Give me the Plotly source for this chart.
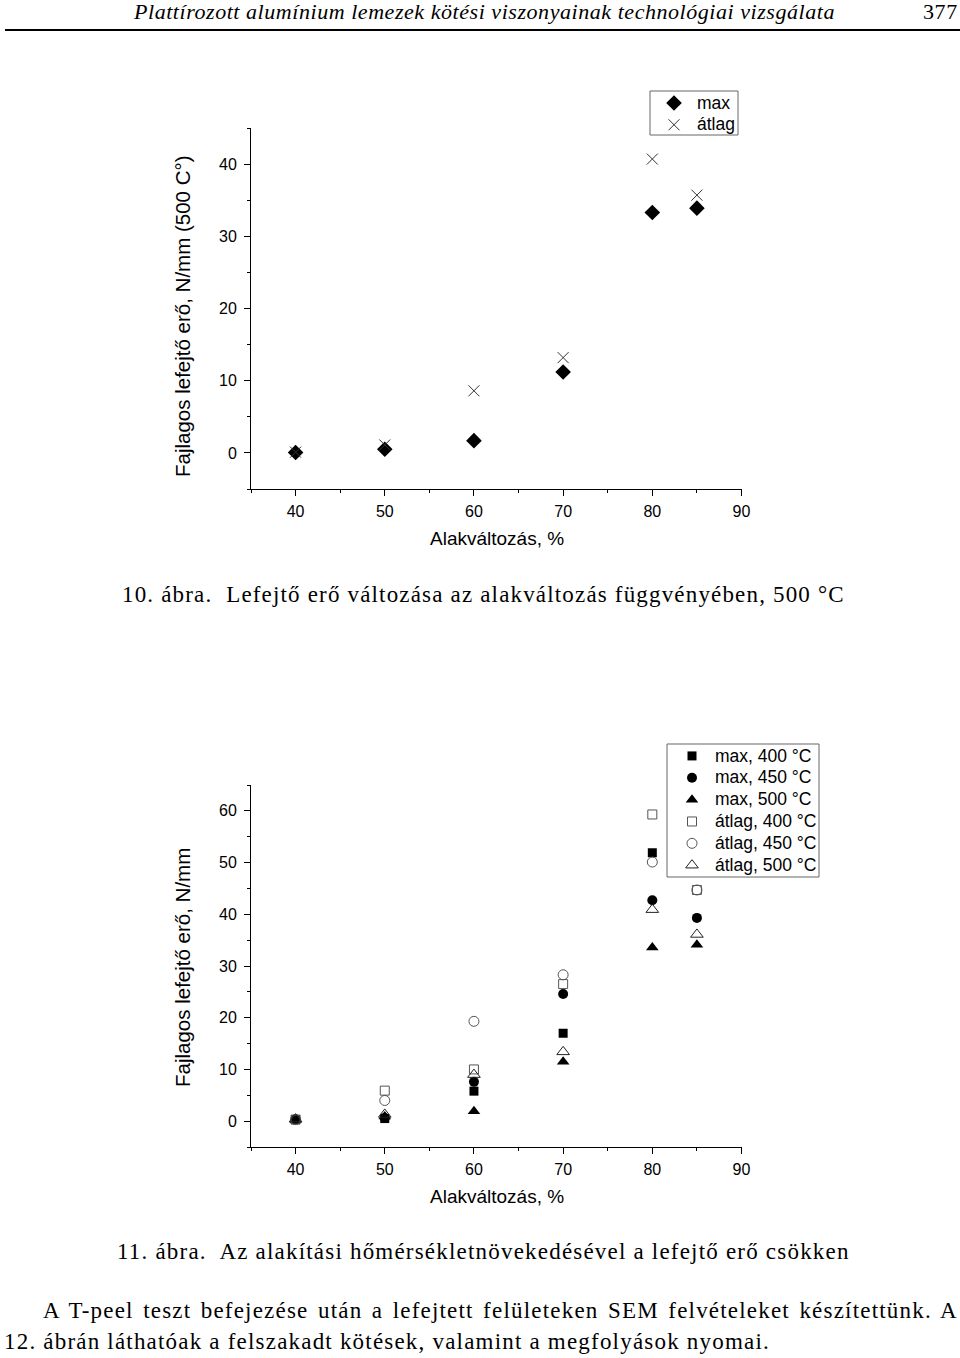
import plotly.graph_objects as go

W, H = 960, 1358

# ---------- data ----------
x_def = [40, 50, 60, 70, 80, 85]
# figure 10 (500 °C)
f10_max = [0.05, 0.5, 1.7, 11.2, 33.3, 33.9]
f10_atlag = [0.1, 1.1, 8.6, 13.2, 40.7, 35.7]

# figure 11
max400 = [0.3, 0.5, 5.8, 17.0, 51.9, None]
max450 = [0.3, 0.6, 7.6, 24.6, 42.7, 39.3]
max500 = [0.2, 0.9, 1.9, 11.5, 33.6, 34.1]
atl400 = [0.3, 5.9, 10.0, 26.5, 59.3, 44.7]
atl450 = [0.3, 4.0, 19.3, 28.3, 50.1, 44.7]
atl500 = [0.4, 1.3, 9.0, 13.4, 40.9, 36.1]

x_ticks = [40, 50, 60, 70, 80, 90]
y1_ticks = [0, 10, 20, 30, 40]
y2_ticks = [0, 10, 20, 30, 40, 50, 60]

SANS = "Liberation Sans, Arial, sans-serif"
SERIF = "Liberation Serif, Times New Roman, serif"


def px(x):
    return x / W


def py(y):
    return 1 - y / H


def lg(s):
    return '<span style="font-size:17.5px">' + s + '</span>'


fig = go.Figure()

# ---------- figure 10 ----------
fig.add_trace(go.Scatter(x=x_def, y=f10_max, mode="markers", name=lg("max"),
                         marker=dict(symbol="diamond", size=12, color="black"),
                         xaxis="x", yaxis="y", legend="legend"))
fig.add_trace(go.Scatter(x=x_def, y=f10_atlag, mode="markers", name=lg("átlag"),
                         marker=dict(symbol="x-thin-open", size=11, color="#333333",
                                     line=dict(width=1, color="#333333")),
                         xaxis="x", yaxis="y", legend="legend"))

# ---------- figure 11 ----------
GR = "#555555"
series = [
    ("max, 400 °C", max400, dict(symbol="square", size=9, color="black")),
    ("max, 450 °C", max450, dict(symbol="circle", size=10, color="black")),
    ("max, 500 °C", max500, dict(symbol="triangle-up", size=11, color="black")),
    ("átlag, 400 °C", atl400, dict(symbol="square-open", size=9, color=GR, line=dict(width=1, color=GR))),
    ("átlag, 450 °C", atl450, dict(symbol="circle-open", size=10, color=GR, line=dict(width=1, color=GR))),
    ("átlag, 500 °C", atl500, dict(symbol="triangle-up-open", size=11, color="#222222", line=dict(width=1, color="#222222"))),
]
for name, vals, mk in series:
    fig.add_trace(go.Scatter(x=x_def, y=vals, mode="markers", name=lg(name), marker=mk,
                             xaxis="x2", yaxis="y2", legend="legend2"))

axis_common = dict(showline=True, linecolor="black", linewidth=1, ticks="outside",
                   ticklen=6, tickwidth=1, tickcolor="black", showgrid=False,
                   zeroline=False, tickfont=dict(family=SANS, size=16, color="black"),
                   mirror=False, automargin=False)
minor = dict(ticks="outside", ticklen=3, tickcolor="black", dtick=5)

xdom = [px(251), px(741.5)]
leg_common = dict(xanchor="left", yanchor="top", borderwidth=0,
                  bgcolor="rgba(0,0,0,0)", font=dict(family=SANS, size=14.5, color="black"),
                  tracegroupgap=0, itemwidth=36)
fig.update_layout(
    width=W, height=H,
    margin=dict(l=0, r=0, t=0, b=0),
    paper_bgcolor="white", plot_bgcolor="white",
    showlegend=True,
    xaxis=dict(domain=xdom, range=[35, 90], tickvals=x_ticks, anchor="y",
               minor=dict(tick0=35, **minor), ticklabelstandoff=2, **axis_common),
    yaxis=dict(domain=[py(489), py(128)], range=[-5, 45], anchor="x",
               minor=dict(tick0=-5, **minor), tickvals=y1_ticks, ticklabelstandoff=4,
               **axis_common),
    xaxis2=dict(domain=xdom, range=[35, 90], tickvals=x_ticks, anchor="y2",
                minor=dict(tick0=35, **minor), ticklabelstandoff=2, **axis_common),
    yaxis2=dict(domain=[py(1147), py(785)], range=[-5, 65], anchor="x2",
                minor=dict(tick0=-5, **minor), tickvals=y2_ticks, ticklabelstandoff=4,
                **axis_common),
    legend=dict(x=px(651), y=py(87), **leg_common),
    legend2=dict(x=px(669), y=py(740), **leg_common),
)

# legend frames
for (x0, y0, x1, y1) in [(650, 91, 738, 135), (667, 744, 819, 877)]:
    fig.add_shape(type="rect", xref="paper", yref="paper",
                  x0=px(x0), x1=px(x1), y0=py(y1), y1=py(y0),
                  line=dict(color="#666666", width=1), fillcolor="rgba(0,0,0,0)", layer="below")

ann = []


def text(x, y, s, size, family, xanchor="center", angle=0, italic=False, ls=None, ws=None):
    if ls is not None or ws is not None:
        st = ""
        if ls is not None:
            st += "letter-spacing:%.2fpx;" % ls
        if ws is not None:
            st += "word-spacing:%.2fpx;" % ws
        s = '<span style="%s">%s</span>' % (st, s)
    ann.append(dict(x=px(x), y=py(y), xref="paper", yref="paper", text=s, showarrow=False,
                    xanchor=xanchor, yanchor="middle", textangle=angle,
                    font=dict(family=family, size=size, color="black",
                              style="italic" if italic else "normal")))


# header
text(131, 12, "Plattírozott alumínium lemezek kötési viszonyainak technológiai vizsgálata", 22, SERIF,
     xanchor="left", italic=True, ls=0.55)
text(960, 12, "377", 22, SERIF, xanchor="right", ls=0.6)

# axis titles
text(497, 539, "Alakváltozás, %", 19, SANS)
text(182, 316, "Fajlagos lefejtő erő, N/mm (500 C°)", 20.5, SANS, angle=-90)
text(497, 1196, "Alakváltozás, %", 19, SANS)
text(182, 968, "Fajlagos lefejtő erő, N/mm", 20.5, SANS, angle=-90)

# captions and body
text(120, 594, "10. ábra.  Lefejtő erő változása az alakváltozás függvényében, 500 °C", 23, SERIF,
     xanchor="left", ls=1.17)
text(115, 1251, "11. ábra.  Az alakítási hőmérsékletnövekedésével a lefejtő erő csökken", 23, SERIF,
     xanchor="left", ls=1.2)
text(41, 1310, "A T-peel teszt befejezése után a lefejtett felületeken SEM felvételeket készítettünk. A",
     23, SERIF, xanchor="left", ls=1.2, ws=2.5)
text(2, 1341, "12. ábrán láthatóak a felszakadt kötések, valamint a megfolyások nyomai.", 23, SERIF,
     xanchor="left", ls=1.2)

fig.update_layout(annotations=ann)
fig.add_shape(type="line", xref="paper", yref="paper", x0=px(5), x1=1, y0=py(30), y1=py(30),
              line=dict(color="black", width=2))

fig.write_html("out.html", config={"displayModeBar": False},
               post_script="document.body.style.margin='0';document.body.style.overflow='hidden';")
